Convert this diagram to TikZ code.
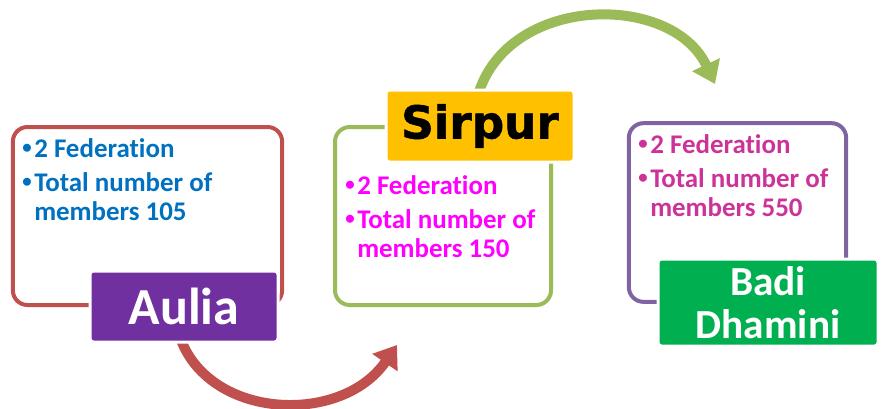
\documentclass[tikz,border=0pt]{standalone}
\usepackage{fontspec}
\setmainfont{Carlito}[RawFeature=-liga]
\newfontfamily\heavyfont{DejaVu Sans}[BoldFeatures={FakeBold=1.2}]
\usetikzlibrary{arrows.meta}
\definecolor{redline}{HTML}{C0504D}
\definecolor{greenline}{HTML}{9BBB59}
\definecolor{purpleline}{HTML}{8064A2}
\definecolor{bluetext}{HTML}{0070C0}
\definecolor{magtext}{HTML}{FF00FF}
\definecolor{pinktext}{HTML}{CC3399}
\definecolor{auliafill}{HTML}{7030A0}
\definecolor{sirpurfill}{HTML}{FFC000}
\definecolor{badifill}{HTML}{00B050}
\newcommand\bul{\makebox[9pt][l]{\raisebox{0.12em}{\scalebox{0.7}{•}}}}
\newcommand\blist[3]{\begin{tabular}[t]{@{}l@{}}\bul #1\\[3.5pt]\bul #2\\\hspace*{9pt}#3\end{tabular}}
\tikzset{
  frame/.style={draw, line width=3pt, rounded corners=11pt, fill=none, inner sep=0},
  tagbox/.style={draw=white, line width=2.25pt, rounded corners=2.5pt, inner sep=0, text=white, font=\bfseries\fontsize{39}{40}\selectfont},
  bullets/.style={anchor=base west, inner sep=0, font=\bfseries\fontsize{20.2}{22}\selectfont},
  bigarrow/.style={line width=7.5pt, -{Triangle[length=16pt,width=22pt]}}
}
\begin{document}
\begin{tikzpicture}[x=0.75pt,y=-0.75pt]
\useasboundingbox (0,0) rectangle (881,408);
% frames
\node[frame, draw=redline, minimum width=202pt, minimum height=133.5pt] (f1) at (147.5,216) {};
\node[frame, draw=greenline, minimum width=162pt, minimum height=133.5pt] (f2) at (443,216) {};
\node[frame, draw=purpleline, minimum width=163pt, minimum height=134pt] (f3) at (737.5,212.5) {};
% arrows
\coordinate (r0) at (181,340);
\coordinate (r1) at (397,345);
\coordinate (g0) at (478,95);
\coordinate (g1) at (715,84);
\draw[bigarrow, redline] (r0) .. controls (212,420) and (342,425) .. (r1);
\draw[bigarrow, greenline] (g0) .. controls (508,-6) and (672,-8) .. (g1);
% bullet texts
\node[bullets, text=bluetext] (t1) at (22,157) {\blist{2 Federation}{Total number of}{members 105}};
\node[bullets, text=magtext] (t2) at (345,194) {\blist{2 Federation}{Total number of}{members 150}};
\node[bullets, text=pinktext] (t3) at (638,153) {\blist{2 Federation}{Total number of}{members 550}};
% tags
\node[tagbox, fill=auliafill, minimum width=141pt, minimum height=53.25pt] (aulia) at (184,306.5) {Aulia};
\node[tagbox, fill=sirpurfill, text=black, minimum width=141pt, minimum height=54pt, font=\heavyfont\bfseries\fontsize{34}{36}\selectfont] (sirpur) at (480,126) {Sirpur};
\node[tagbox, fill=badifill, minimum width=165pt, minimum height=65.25pt, align=center, font=\bfseries\fontsize{31}{32}\selectfont] (badi) at (768,302.5) {Badi\\Dhamini};
\end{tikzpicture}
\end{document}
